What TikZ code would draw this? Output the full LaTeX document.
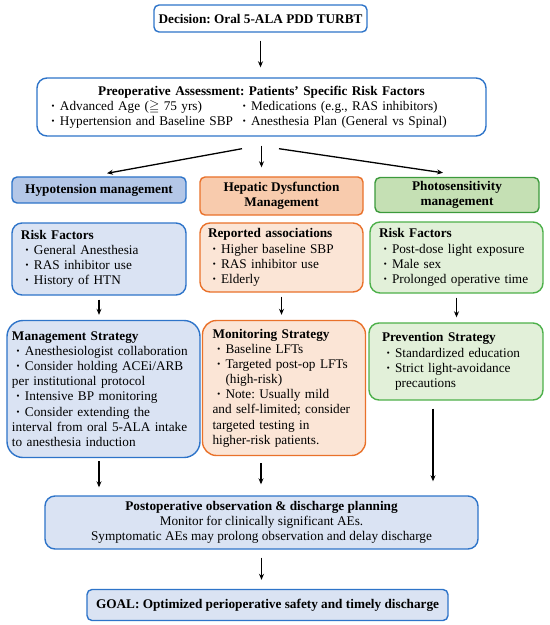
\documentclass[tikz,border=0pt]{standalone}
\usepackage{amssymb}
\usepackage{fontspec}
\setmainfont{Liberation Serif}
\usetikzlibrary{arrows.meta}
\definecolor{azul}{HTML}{2E74C9}
\definecolor{azulmedio}{HTML}{B4C7E7}
\definecolor{azulclaro}{HTML}{DAE3F3}
\definecolor{laranja}{HTML}{E9712A}
\definecolor{laranjamedio}{HTML}{F8CBAD}
\definecolor{laranjaclaro}{HTML}{FBE5D6}
\definecolor{verde}{HTML}{4DB04A}
\definecolor{verdeescuro}{HTML}{3C9A3C}
\definecolor{verdemedio}{HTML}{C5E0B4}
\definecolor{verdeclaro}{HTML}{E2F0D9}
\newcommand\tam{\fontsize{13.3}{15.2}\selectfont\frenchspacing}
\newcommand\bull{\hspace*{4bp}\makebox[9bp][l]{\textbf{\textperiodcentered}}}
\newcommand\recuo{\hspace*{13bp}}
\begin{document}
\begin{tikzpicture}[x=1bp,y=-1bp,font=\tam]
\tikzstyle{caixa}=[rectangle, line width=1.4bp, rounded corners=10bp, align=left, inner xsep=9bp, inner ysep=2bp]
\tikzstyle{cab}=[rectangle, line width=1.4bp, rounded corners=5bp, align=center, font=\tam\bfseries, inner sep=2bp]
\tikzstyle{seta}=[-{Stealth[length=6bp,width=5bp]}, line width=1.3bp]
\useasboundingbox (0,0) rectangle (550,625);
% topo
\node[cab, draw=azul, fill=white, minimum width=213bp, minimum height=27bp] (decisao) at (260.5,18.5) {Decision: Oral 5-ALA PDD TURBT};
\node[caixa, draw=azul, fill=white, minimum width=449bp, minimum height=58bp, inner xsep=10bp, text width=429bp] (preop) at (261.5,107)
 {\makebox[429bp][c]{\textbf{Preoperative Assessment: Patients’ Specific Risk Factors}}\\
 \makebox[191bp][l]{\bull Advanced Age ($\geqq$ 75 yrs)}\bull Medications (e.g., RAS inhibitors)\\
 \makebox[191bp][l]{\bull Hypertension and Baseline SBP}\bull Anesthesia Plan (General vs Spinal)};
% cabecalhos
\node[cab, draw=azul, fill=azulmedio, minimum width=174bp, minimum height=26bp] (hiphead) at (99,190) {Hypotension management};
\node[cab, draw=laranja, fill=laranjamedio, minimum width=163bp, minimum height=38bp] (hephead) at (281.5,196) {Hepatic Dysfunction\\Management};
\node[cab, draw=verdeescuro, fill=verdemedio, minimum width=164bp, minimum height=35bp] (fotohead) at (457,195) {Photosensitivity\\management};
% fatores de risco
\node[caixa, draw=azul, fill=azulclaro, minimum width=174bp, minimum height=72bp, text width=156bp] (hiprf) at (99,259)
 {\textbf{Risk Factors}\\\bull General Anesthesia\\\bull RAS inhibitor use\\\bull History of HTN};
\node[caixa, draw=laranja, fill=laranjaclaro, minimum width=163bp, minimum height=69bp, inner xsep=8bp, text width=147bp] (heprf) at (281.5,257.5)
 {\textbf{Reported associations}\\\bull Higher baseline SBP\\\bull RAS inhibitor use\\\bull Elderly};
\node[caixa, draw=verde, fill=verdeclaro, minimum width=173bp, minimum height=71bp, text width=155bp] (fotorf) at (456.5,257.5)
 {\textbf{Risk Factors}\\\bull Post-dose light exposure\\\bull Male sex\\\bull Prolonged operative time};
% estrategias
\node[caixa, draw=azul, fill=azulclaro, rounded corners=16bp, minimum width=193bp, minimum height=137bp, inner xsep=5bp, text width=183bp] (hipms) at (103.5,389)
 {\textbf{Management Strategy}\\\bull Anesthesiologist collaboration\\\bull Consider holding ACEi/ARB\\per institutional protocol\\\bull Intensive BP monitoring\\\bull Consider extending the\\interval from oral 5-ALA intake\\to anesthesia induction};
\node[caixa, draw=laranja, fill=laranjaclaro, rounded corners=14bp, minimum width=163bp, minimum height=135bp, inner xsep=10bp, text width=143bp] (hepms) at (284,388)
 {\textbf{Monitoring Strategy}\\\bull Baseline LFTs\\\bull Targeted post-op LFTs\\\recuo(high-risk)\\\bull Note: Usually mild\\and self-limited; consider\\targeted testing in\\higher-risk patients.};
\node[caixa, draw=verde, fill=verdeclaro, minimum width=174bp, minimum height=77bp, inner xsep=13bp, text width=148bp] (fotops) at (456,361.5)
 {\textbf{Prevention Strategy}\\\bull Standardized education\\\bull Strict light-avoidance\\\recuo precautions};
% final
\node[caixa, draw=azul, fill=azulclaro, minimum width=433bp, minimum height=53bp, align=center] (posop) at (261.5,522.5)
 {\textbf{Postoperative observation \& discharge planning}\\Monitor for clinically significant AEs.\\Symptomatic AEs may prolong observation and delay discharge};
\node[cab, draw=azul, fill=azulclaro, minimum width=361bp, minimum height=31bp] (goal) at (267.5,605) {GOAL: Optimized perioperative safety and timely discharge};
% setas
\draw[seta, shorten <=8bp, shorten >=10bp] (decisao.south) -- (decisao.south |- preop.north);
\draw[seta] ([xshift=-19.5bp,yshift=-12bp]preop.south) -- ([xshift=8bp,yshift=3bp]hiphead.north);
\draw[seta] ([yshift=-9bp]preop.south) -- ([yshift=9bp]preop.south |- hephead.north);
\draw[seta] ([xshift=17.5bp,yshift=-12bp]preop.south) -- ([xshift=-14bp,yshift=4bp]fotohead.north);
\foreach \a/\b in {hiprf/hipms, heprf/hepms, fotorf/fotops}
\draw[seta, shorten <=4bp, shorten >=5bp] (\a.south) -- (\a.south |- \b.north);
\foreach \n/\x/\s/\e in {hipms/99/3/8, hepms/261/7/11, fotops/433/8/14}
\draw[seta, shorten <=\s bp, shorten >=\e bp] (\x,0 |- \n.south) -- (\x,0 |- posop.north);
\draw[seta, shorten <=8bp, shorten >=9bp] (posop.south) -- (posop.south |- goal.north);
\end{tikzpicture}
\end{document}
